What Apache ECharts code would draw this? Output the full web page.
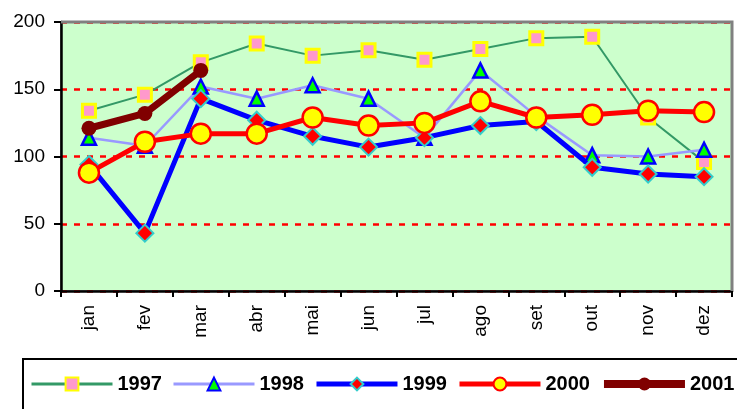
<!DOCTYPE html>
<html>
<head>
<meta charset="utf-8">
<script src="https://cdn.jsdelivr.net/npm/echarts@6/dist/echarts.min.js"></script>
<style>
  html, body { margin: 0; padding: 0; background: #fff; }
  #chart { width: 737px; height: 409px; }
</style>
</head>
<body>
<div id="chart"></div>
<script>
// months on the x axis
var months = ['jan', 'fev', 'mar', 'abr', 'mai', 'jun', 'jul', 'ago', 'set', 'out', 'nov', 'dez'];

// values
var y1997 = [134, 146, 170, 184, 175, 179, 172, 180, 188, 189, 129, 96];
var y1998 = [114, 108, 152, 143, 153, 143, 114, 164, 130, 101, 100, 105];
var y1999 = [94, 43, 143, 127, 115, 107, 114, 123, 126, 92, 87, 85];
var y2000 = [88, 111, 117, 117, 129, 123, 125, 141, 129, 131, 134, 133];
var y2001 = [121, 132, 164];

var yTicks = [0, 50, 100, 150, 200];

var chart = echarts.init(document.getElementById('chart'));

var fontFam = 'Liberation Sans, Arial, sans-serif';

chart.setOption({
  animation: false,
  backgroundColor: '#ffffff',
  grid: {
    left: 61, right: 5, top: 22, bottom: 118,
    show: true,
    backgroundColor: '#CCFFCC',
    borderColor: '#808080',
    borderWidth: 2
  },
  legend: {
    left: 30,
    top: 374,
    width: 720,
    padding: 0,
    itemWidth: 81,
    itemHeight: 16,
    itemGap: 10,
    textStyle: { fontFamily: fontFam, fontSize: 20, fontWeight: 'bold', color: '#000' },
    data: [
      { name: '1997', lineStyle: { width: 3 } },
      { name: '1998', lineStyle: { width: 3 } },
      { name: '1999', lineStyle: { width: 5 } },
      { name: '2000', lineStyle: { width: 5 } },
      { name: '2001', lineStyle: { width: 8 } }
    ]
  },
  xAxis: {
    type: 'category',
    data: months,
    boundaryGap: true,
    axisLine: { lineStyle: { color: '#000', width: 2.5 } },
    axisTick: { show: true, length: 6, lineStyle: { color: '#000', width: 2 } },
    axisLabel: { rotate: 90, fontFamily: fontFam, fontSize: 19, color: '#000', margin: 14 },
    splitLine: { show: false }
  },
  yAxis: {
    type: 'value',
    min: yTicks[0],
    max: yTicks[yTicks.length - 1],
    interval: 50,
    axisLine: { show: true, lineStyle: { color: '#000', width: 2.5 } },
    axisTick: { show: true, length: 7, lineStyle: { color: '#000', width: 2 } },
    axisLabel: { fontFamily: fontFam, fontSize: 19, color: '#000', margin: 16 },
    splitLine: { show: true, lineStyle: { color: '#FF0000', width: 2.5, type: [6, 7] } }
  },
  series: [
    {
      name: '1997', type: 'line', data: y1997,
      symbol: 'rect', symbolSize: 13,
      lineStyle: { color: '#339966', width: 2 },
      itemStyle: { color: '#FF99CC', borderColor: '#FFFF00', borderWidth: 3 }
    },
    {
      name: '1998', type: 'line', data: y1998,
      symbol: 'triangle', symbolSize: 14,
      lineStyle: { color: '#9999FF', width: 2.5 },
      itemStyle: { color: '#00FF00', borderColor: '#0000FF', borderWidth: 2.5 }
    },
    {
      name: '1999', type: 'line', data: y1999,
      symbol: 'diamond', symbolSize: 17,
      lineStyle: { color: '#0000FF', width: 5 },
      itemStyle: { color: '#FF0000', borderColor: '#33CCCC', borderWidth: 2 }
    },
    {
      name: '2000', type: 'line', data: y2000,
      symbol: 'circle', symbolSize: 20,
      lineStyle: { color: '#FF0000', width: 5 },
      itemStyle: { color: '#FFFF00', borderColor: '#FF0000', borderWidth: 2.5 }
    },
    {
      name: '2001', type: 'line', data: y2001,
      symbol: 'circle', symbolSize: 15,
      lineStyle: { color: '#800000', width: 7 },
      itemStyle: { color: '#800000' }
    }
  ]
});

// grey frame on top/right of the plot and the legend box, placed from the axes
var tl = chart.convertToPixel({ gridIndex: 0 }, [0, yTicks[yTicks.length - 1]]);
var br = chart.convertToPixel({ gridIndex: 0 }, [months.length - 1, yTicks[0]]);
var half = (br[0] - tl[0]) / (months.length - 1) / 2;
var x0 = tl[0] - half, x1 = br[0] + half;
chart.setOption({
  graphic: [
    {
      type: 'polyline', silent: true, z: 100,
      shape: { points: [[x0, tl[1]], [x1, tl[1]], [x1, br[1]]] },
      style: { fill: 'none', stroke: '#808080', lineWidth: 3 }
    },
    {
      type: 'rect', silent: true,
      shape: { x: 23, y: 359, width: 800, height: 100 },
      style: { fill: 'none', stroke: '#000', lineWidth: 2 }
    }
  ]
});
</script>
</body>
</html>
